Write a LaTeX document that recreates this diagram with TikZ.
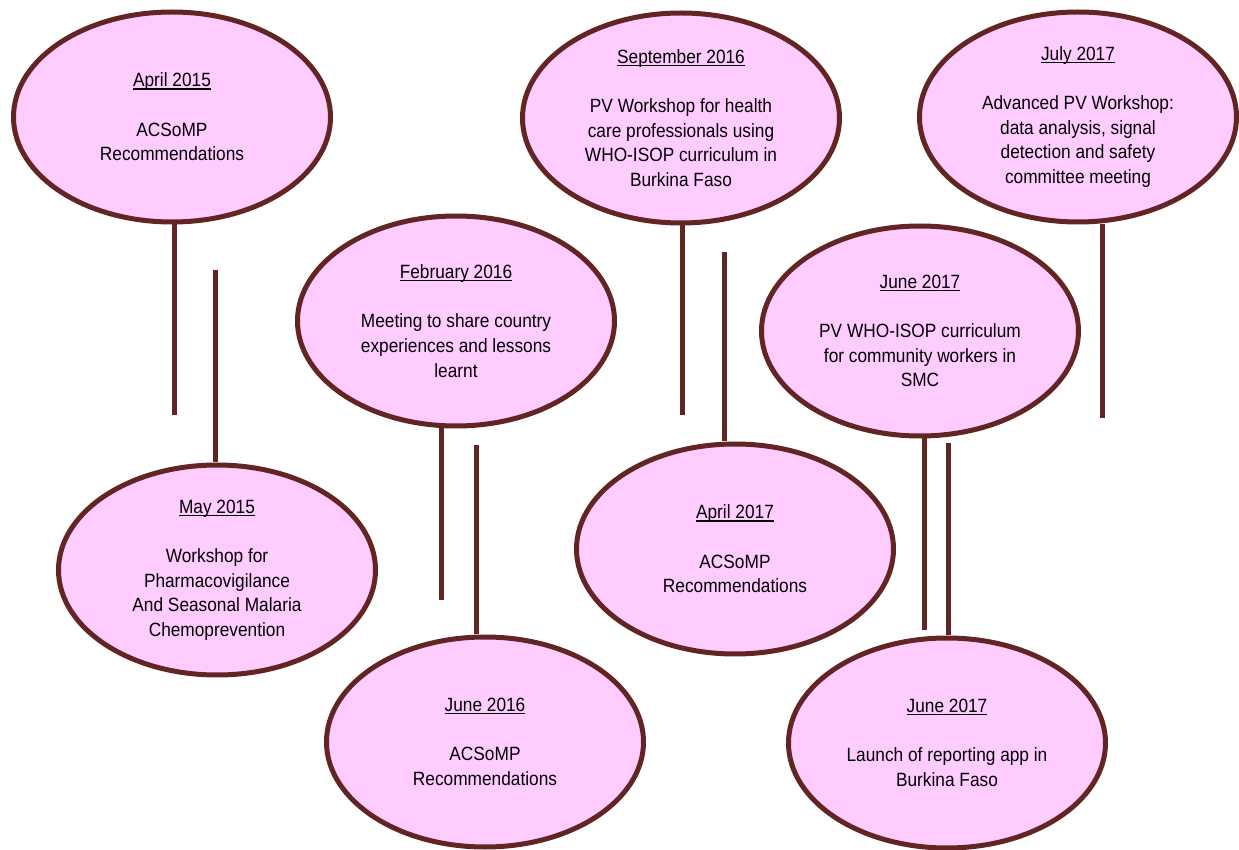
\documentclass[tikz,border=0pt]{standalone}
\usepackage{fontspec}
\setmainfont{Liberation Sans}[FakeStretch=0.9]
\usetikzlibrary{shapes.geometric,positioning}

\definecolor{tlfill}{HTML}{FFCCFF}
\definecolor{tlborder}{HTML}{632523}

% underlined date, rule just under the baseline
\newcommand\evdate[1]{\setbox0\hbox{#1}\rlap{\rule[-1.3pt]{\wd0}{0.65pt}}\box0}

\tikzset{
  event/.style={ellipse, draw=tlborder, fill=tlfill, line width=2.5pt,
    minimum width=158.5pt, minimum height=105pt, inner sep=0pt,
    align=center, font=\fontsize{9.6}{12.3}\selectfont},
  stem/.style={draw=tlborder, line width=2.5pt}
}

\begin{document}
\begin{tikzpicture}[x=0.5pt,y=-0.5pt]
		\useasboundingbox (0,0) rectangle (1239,850);

		\node[event] (apr15) at (172,117) {\evdate{April 2015}\\[12.3pt]ACSoMP\\Recommendations};
		\node[event] (may15) at (217,570) {\evdate{May 2015}\\[12.3pt]Workshop for\\Pharmacovigilance\\And Seasonal Malaria\\Chemoprevention};
		\node[event] (feb16) at (456,321) {\evdate{February 2016}\\[12.3pt]Meeting to share country\\experiences and lessons\\learnt};
		\node[event] (jun16) at (485,742) {\evdate{June 2016}\\[12.3pt]ACSoMP\\Recommendations};
		\node[event] (sep16) at (681,118) {\evdate{September 2016}\\[12.3pt]PV Workshop for health\\care professionals using\\WHO-ISOP curriculum in\\Burkina Faso};
		\node[event] (apr17) at (735,549) {\evdate{April 2017}\\[12.3pt]ACSoMP\\Recommendations};
		\node[event] (jul17) at (1078,117) {\evdate{July 2017}\\[12.3pt]Advanced PV Workshop:\\data analysis, signal\\detection and safety\\committee meeting};
		\node[event] (jun17a) at (920,331) {\evdate{June 2017}\\[12.3pt]PV WHO-ISOP curriculum\\for community workers in\\SMC};
		\node[event] (jun17b) at (947,743) {\evdate{June 2017}\\[12.3pt]Launch of reporting app in\\Burkina Faso};

		% loose ends of the stems
		\coordinate (e1) at (174,415);
		\coordinate (e2) at (215,270);
		\coordinate (e3) at (441,600);
		\coordinate (e4) at (476,445);
		\coordinate (e5) at (682,415);
		\coordinate (e6) at (724,252);
		\coordinate (e7) at (924,630);
		\coordinate (e8) at (948,443);
		\coordinate (e9) at (1102,418);

		\draw[stem] (e1 |- apr15.south) -- (e1);
		\draw[stem] (e2) -- (e2 |- may15.north);
		\draw[stem] (e3 |- feb16.south) -- (e3);
		\draw[stem] (e4) -- (e4 |- jun16.north);
		\draw[stem] (e5 |- sep16.south) -- (e5);
		\draw[stem] (e6) -- (e6 |- apr17.north);
		\draw[stem] (e7 |- jun17a.south) -- (e7);
		\draw[stem] (e8) -- (e8 |- jun17b.north);
		\draw[stem] (e9 |- jul17.south) -- (e9);
	\end{tikzpicture}
\end{document}
